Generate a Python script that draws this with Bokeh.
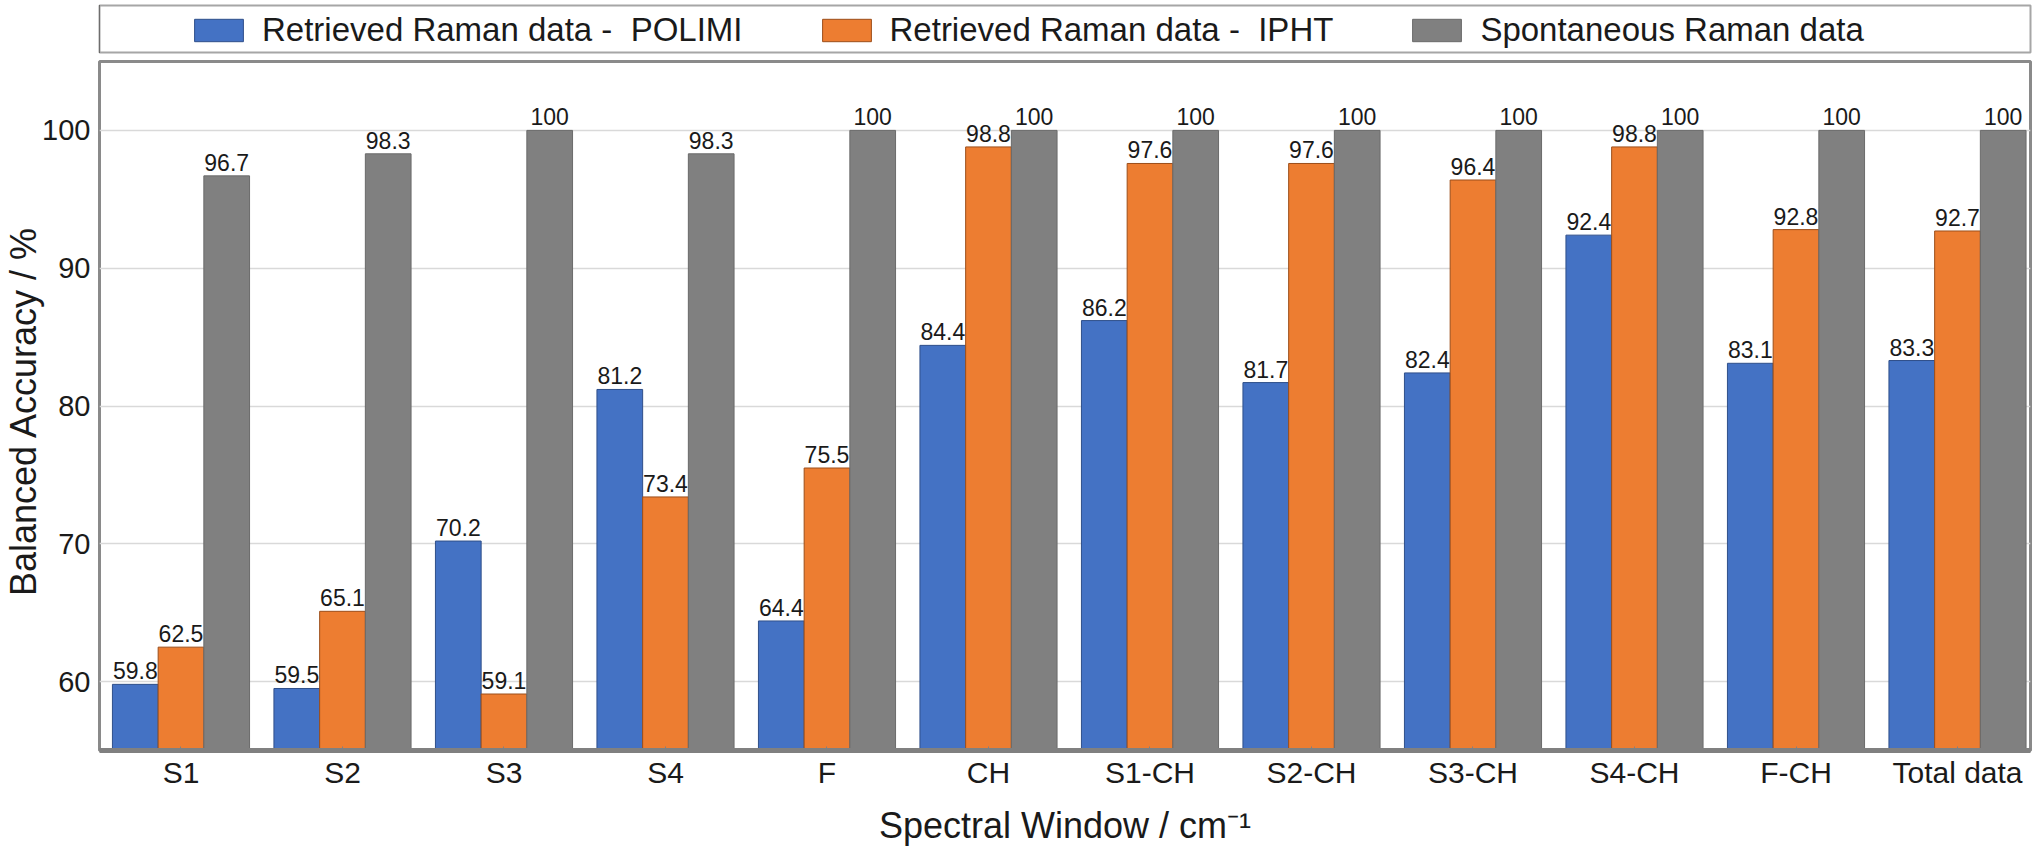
from bokeh.plotting import figure
from bokeh.models import Range1d, FixedTicker, Legend, LegendItem, ColumnDataSource
from bokeh.layouts import column
from bokeh.embed import file_html
from bokeh.resources import INLINE
from bokeh.core.properties import value
from bokeh.transform import dodge

# ---------------- data ----------------
categories = ["S1", "S2", "S3", "S4", "F", "CH", "S1-CH", "S2-CH", "S3-CH",
              "S4-CH", "F-CH", "Total data"]
polimi = [59.8, 59.5, 70.2, 81.2, 64.4, 84.4, 86.2, 81.7, 82.4, 92.4, 83.1, 83.3]
ipht = [62.5, 65.1, 59.1, 73.4, 75.5, 98.8, 97.6, 97.6, 96.4, 98.8, 92.8, 92.7]
spontaneous = [96.7, 98.3, 100, 98.3, 100, 100, 100, 100, 100, 100, 100, 100]
series_names = ["Retrieved Raman data -  POLIMI",
                "Retrieved Raman data -  IPHT",
                "Spontaneous Raman data"]
y_ticks = [60, 70, 80, 90, 100]

# ---------------- style ----------------
FONT = "Liberation Sans"
fills = ["#4472C4", "#ED7D31", "#808080"]
edges = ["#2F4F8A", "#9C4E1A", "#6A6A6A"]
offsets = [-0.283, 0.0, 0.283]
bar_w = 0.283

xs = list(range(len(categories)))
series = [polimi, ipht, spontaneous]


def fmt(v):
    return f"{v:g}"


sources = [ColumnDataSource(dict(x=xs, v=vals, lbl=[fmt(v) for v in vals]))
           for vals in series]

# ---------------- main chart ----------------
p = figure(width=2042, height=794,
           x_range=Range1d(-0.5046, 11.452), y_range=Range1d(55, 105),
           min_border_left=99, min_border_right=12, min_border_top=5,
           min_border_bottom=100,
           toolbar_location=None, output_backend="svg",
           background_fill_color="white", border_fill_color="white")

for src, off, fc, lc in zip(sources, offsets, fills, edges):
    p.vbar(x=dodge("x", off), top="v", bottom=0, width=bar_w, source=src,
           fill_color=fc, line_color=lc, line_width=1)
    p.text(x=dodge("x", off), y="v", text="lbl", source=src,
           text_align="center", text_baseline="bottom", y_offset=-5,
           text_font=value(FONT), text_font_size="23px", text_color="#1a1a1a")

p.outline_line_color = "#8a8a8a"
p.outline_line_width = 3

p.xgrid.visible = False
p.ygrid.grid_line_color = "#d9d9d9"
p.ygrid.grid_line_width = 1.5

p.yaxis.ticker = FixedTicker(ticks=y_ticks)
p.yaxis.axis_line_color = None
p.yaxis.major_tick_line_color = None
p.yaxis.major_tick_out = 0
p.yaxis.major_tick_in = 0
p.yaxis.minor_tick_line_color = None
p.yaxis.minor_tick_out = 0
p.yaxis.major_label_text_font = FONT
p.yaxis.major_label_text_font_size = "29px"
p.yaxis.major_label_text_color = "#1a1a1a"
p.yaxis.major_label_standoff = 9
p.yaxis.axis_label = "Balanced Accuracy  / %"
p.yaxis.axis_label_text_font = FONT
p.yaxis.axis_label_text_font_size = "36px"
p.yaxis.axis_label_text_font_style = "normal"
p.yaxis.axis_label_text_color = "#1a1a1a"
p.yaxis.axis_label_standoff = -5

p.xaxis.ticker = FixedTicker(ticks=xs)
p.xaxis.major_label_overrides = {i: c for i, c in enumerate(categories)}
p.xaxis.axis_line_color = "#808080"
p.xaxis.axis_line_width = 5
p.xaxis.major_tick_line_color = "#808080"
p.xaxis.major_tick_in = 4
p.xaxis.major_tick_out = 0
p.xaxis.minor_tick_line_color = None
p.xaxis.minor_tick_out = 0
p.xaxis.major_label_text_font = FONT
p.xaxis.major_label_text_font_size = "30px"
p.xaxis.major_label_text_color = "#1a1a1a"
p.xaxis.major_label_standoff = 5
p.xaxis.axis_label = "Spectral Window / cm\u207b\u00b9"
p.xaxis.axis_label_text_font = FONT
p.xaxis.axis_label_text_font_size = "36px"
p.xaxis.axis_label_text_font_style = "normal"
p.xaxis.axis_label_text_color = "#1a1a1a"
p.xaxis.axis_label_standoff = 13

# ---------------- legend strip ----------------
# same bars, drawn out of this strip's view, only to feed the legend swatches
leg = figure(width=2042, height=56, x_range=Range1d(100, 101), y_range=Range1d(0, 1),
             x_axis_type=None, y_axis_type=None,
             min_border_left=99, min_border_right=12, min_border_top=5,
             min_border_bottom=4,
             toolbar_location=None, output_backend="svg",
             background_fill_color="white", border_fill_color="white")
leg.outline_line_color = "#a6a6a6"
leg.outline_line_width = 2
proxies = []
for src, off, fc, lc in zip(sources, offsets, fills, edges):
    proxies.append(leg.vbar(x=dodge("x", off), top="v", bottom=0, width=bar_w,
                            source=src, fill_color=fc, line_color=lc,
                            line_width=1))
legend = Legend(items=[LegendItem(label=n, renderers=[r])
                       for n, r in zip(series_names, proxies)],
                orientation="horizontal", location=(89, 3),
                glyph_width=61, glyph_height=28, label_standoff=13,
                spacing=73, padding=0, margin=0,
                border_line_alpha=0, background_fill_alpha=0,
                label_text_font=FONT, label_text_font_size="33px",
                label_text_color="#1a1a1a")
leg.add_layout(legend, "center")

layout = column(leg, p, spacing=0)
open("out.html", "w").write(file_html(layout, INLINE))
